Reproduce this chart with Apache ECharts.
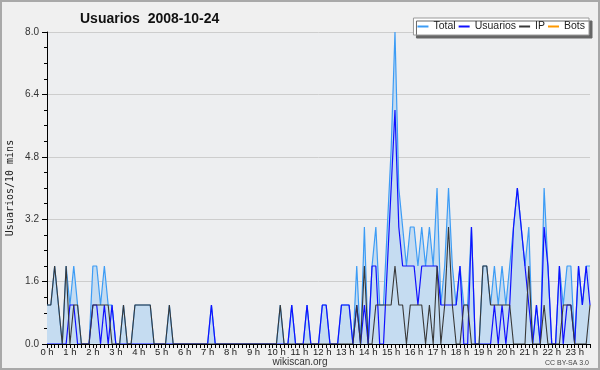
<!DOCTYPE html>
<html><head><meta charset="utf-8">
<script src="https://cdn.jsdelivr.net/npm/echarts@6/dist/echarts.min.js"></script>
<style>html,body{margin:0;padding:0;background:#f0f0f0}#c{width:600px;height:370px}</style>
</head><body><div id="c"></div>
<script>
const hourLabels = ['0 h','1 h','2 h','3 h','4 h','5 h','6 h','7 h','8 h','9 h','10 h','11 h',
  '12 h','13 h','14 h','15 h','16 h','17 h','18 h','19 h','20 h','21 h','22 h','23 h'];
const yTicks = [0, 1.6, 3.2, 4.8, 6.4, 8.0];
const legendNames = ['Total', 'Usuarios', 'IP', 'Bots'];

const total = [
  1,1,2,1,0,2,1,2,1,0,0,0,
  2,2,1,2,1,1,0,0,1,0,0,1,
  1,1,1,1,0,0,0,0,1,0,0,0,
  0,0,0,0,0,0,0,1,0,0,0,0,
  0,0,0,0,0,0,0,0,0,0,0,0,
  0,1,0,0,1,0,0,0,1,0,0,0,
  1,1,0,0,0,1,1,1,0,2,0,3,
  0,2,3,1,1,3,5,8,4,3,2,3,
  3,2,3,2,3,2,4,1,2,4,2,1,
  2,1,1,3,0,0,2,2,1,2,1,2,
  1,2,3,4,3,2,3,0,1,0,4,2,
  0,0,2,1,2,2,0,2,1,2,2];
const usuarios = [
  0,0,0,0,0,0,1,1,0,0,0,0,
  1,1,0,1,0,1,0,0,0,0,0,0,
  0,0,0,0,0,0,0,0,0,0,0,0,
  0,0,0,0,0,0,0,1,0,0,0,0,
  0,0,0,0,0,0,0,0,0,0,0,0,
  0,0,0,0,1,0,0,0,1,0,0,0,
  1,1,0,0,0,1,1,1,0,1,0,1,
  0,2,2,0,0,2,4,6,3,2,2,2,
  2,1,2,2,2,2,2,1,1,1,1,1,
  2,0,0,3,0,0,0,0,0,1,0,1,
  0,1,3,4,3,2,1,0,1,0,3,2,
  0,0,2,0,1,1,0,2,1,2,1];
const ip = [
  1,1,2,1,0,2,0,1,1,0,0,0,
  1,1,1,1,1,0,0,0,1,0,0,1,
  1,1,1,1,0,0,0,0,1,0,0,0,
  0,0,0,0,0,0,0,0,0,0,0,0,
  0,0,0,0,0,0,0,0,0,0,0,0,
  0,1,0,0,0,0,0,0,0,0,0,0,
  0,0,0,0,0,0,0,0,0,1,0,2,
  0,0,1,1,1,1,1,2,1,1,0,1,
  1,1,1,0,1,0,2,0,1,3,1,0,
  0,1,1,0,0,0,2,2,1,1,1,1,
  1,1,0,0,0,0,2,0,0,0,1,0,
  0,0,0,1,1,1,0,0,0,0,1];
const bots = [
  0,0,0,0,0,0,0,0,0,0,0,0,
  0,0,0,0,0,0,0,0,0,0,0,0,
  0,0,0,0,0,0,0,0,0,0,0,0,
  0,0,0,0,0,0,0,0,0,0,0,0,
  0,0,0,0,0,0,0,0,0,0,0,0,
  0,0,0,0,0,0,0,0,0,0,0,0,
  0,0,0,0,0,0,0,0,0,0,0,0,
  0,0,0,0,0,0,0,0,0,0,0,0,
  0,0,0,0,0,0,0,0,0,0,0,0,
  0,0,0,0,0,0,0,0,0,0,0,0,
  0,0,0,0,0,0,0,0,0,0,0,0,
  0,0,0,0,0,0,0,0,0,0,0];

const slots = [];
for (let i = 0; i < total.length; i++) {
  const h = Math.floor(i / 6), m = (i % 6) * 10;
  slots.push(h + ':' + (m < 10 ? '0' : '') + m);
}

const FONT = 'Liberation Sans';
const chart = echarts.init(document.getElementById('c'), null, {renderer: 'canvas'});
chart.setOption({
  backgroundColor: '#f0f0f0',
  animation: false,
  title: {
    text: 'Usuarios  2008-10-24', left: 75, top: 7,
    textStyle: {fontFamily: FONT, fontSize: 14, fontWeight: 'bold', color: '#111'}
  },
  legend: {
    data: legendNames, right: 11, top: 18, orient: 'horizontal',
    backgroundColor: '#ffffff', borderColor: '#9a9a9a', borderWidth: 1,
    shadowColor: '#666', shadowOffsetX: 3, shadowOffsetY: 3, shadowBlur: 0,
    padding: [3, 4, 3, 4], itemGap: 3, itemWidth: 11, itemHeight: 2, icon: 'rect',
    textStyle: {fontFamily: FONT, fontSize: 10.5, color: '#222', padding: [0, 0, 0, 0]}
  },
  grid: {left: 47, right: 10, top: 32, bottom: 26, show: true,
    backgroundColor: '#edeef0', borderWidth: 0},
  xAxis: {
    type: 'category', data: slots, boundaryGap: false, z: 10,
    axisLine: {lineStyle: {color: '#000', width: 1}},
    axisTick: {interval: 0, length: 4, lineStyle: {color: '#000'}},
    axisLabel: {interval: 5, margin: 3, fontFamily: FONT, fontSize: 9.5, color: '#222',
      formatter: (v, i) => hourLabels[Math.round(i / 6)]},
    splitLine: {show: false}
  },
  yAxis: {
    type: 'value', min: yTicks[0], max: yTicks[yTicks.length - 1], interval: 1.6,
    axisLine: {show: true, lineStyle: {color: '#000'}},
    axisTick: {show: true, length: 5, lineStyle: {color: '#000'}},
    minorTick: {show: true, splitNumber: 4, length: 3, lineStyle: {color: '#000'}},
    axisLabel: {margin: 8, fontFamily: FONT, fontSize: 10, color: '#333',
      formatter: v => v.toFixed(1)},
    splitLine: {lineStyle: {color: '#cdcdcd', width: 1}}
  },
  series: [
    {name: 'Total', type: 'line', data: total, showSymbol: false, z: 2,
      lineStyle: {color: '#3d9cf5', width: 1.2}, itemStyle: {color: '#3d9cf5'},
      areaStyle: {color: '#c5dcf1', opacity: 1}},
    {name: 'Usuarios', type: 'line', data: usuarios, showSymbol: false, z: 3,
      lineStyle: {color: '#1010ff', width: 1.2}, itemStyle: {color: '#1010ff'}},
    {name: 'IP', type: 'line', data: ip, showSymbol: false, z: 4,
      lineStyle: {color: '#383838', width: 1.1}, itemStyle: {color: '#383838'}},
    {name: 'Bots', type: 'line', data: bots, showSymbol: false, z: 1,
      lineStyle: {color: '#ff9900', width: 1}, itemStyle: {color: '#ff9900'}}
  ],
  graphic: [
    {type: 'rect', z: 100, silent: true,
      shape: {x: 1, y: 1, width: 598, height: 368},
      style: {fill: 'none', stroke: '#a9a9a9', lineWidth: 2}},
    {type: 'text', z: 100, x: 10, y: 188, rotation: Math.PI / 2,
      style: {text: 'Usuarios/10 mins', font: '10px "DejaVu Sans Mono"', fill: '#222',
        textAlign: 'center', textVerticalAlign: 'middle'}},
    {type: 'text', z: 100, x: 300, y: 362,
      style: {text: 'wikiscan.org', font: '10px "Liberation Sans"', fill: '#333',
        textAlign: 'center', textVerticalAlign: 'middle'}},
    {type: 'text', z: 100, x: 589, y: 363,
      style: {text: 'CC BY-SA 3.0', font: '7px "Liberation Sans"', fill: '#444',
        textAlign: 'right', textVerticalAlign: 'middle'}}
  ]
});
</script></body></html>
